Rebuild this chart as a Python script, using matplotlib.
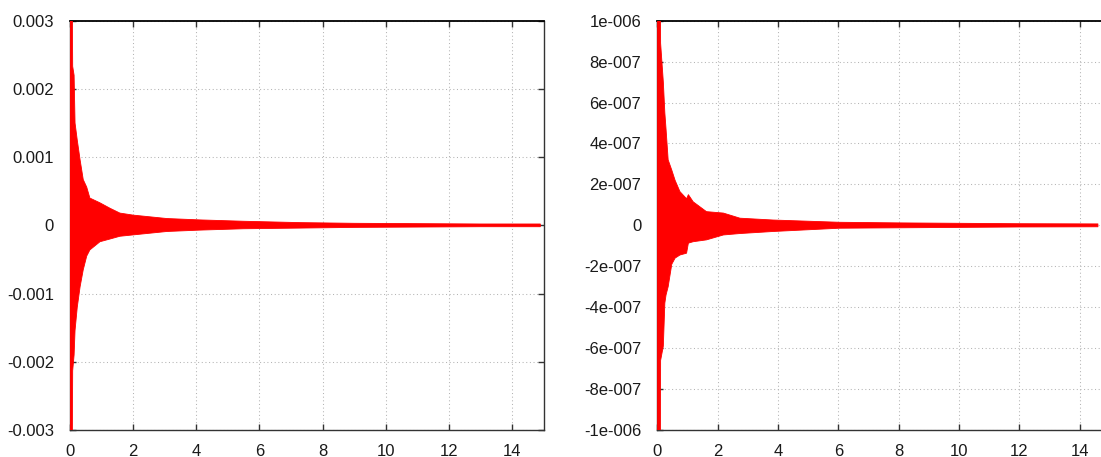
import matplotlib
matplotlib.use("Agg")
import matplotlib.pyplot as plt
import numpy as np
from matplotlib.ticker import FixedLocator, FixedFormatter

plt.rcParams['font.family'] = ['Liberation Sans', 'DejaVu Sans']

# ---- data (envelope of the dense red signal) ----
x_left = [0, 0.07, 0.085, 0.13, 0.16, 0.23, 0.32, 0.42, 0.53, 0.63, 0.95, 1.27, 1.58,
          2.0, 3.07, 4.1, 5.5, 7.3, 9.0, 11.0, 13.0, 14.9]
upper_left = [0.0035, 0.0035, 0.00233, 0.0022, 0.0015, 0.00125, 0.00096, 0.00067, 0.00056,
              0.0004, 0.00033, 0.00025, 0.00018, 0.00015, 0.0001, 0.00008,
              0.00006, 0.00004, 0.00003, 0.000025, 0.00002, 0.00002]
lower_left = [-0.0035, -0.0035, -0.00213, -0.0019, -0.00154, -0.0012, -0.0009, -0.00065,
              -0.00045, -0.00036, -0.00024, -0.0002, -0.00016, -0.00014,
              -0.00009, -0.00007, -0.00005, -0.00004, -0.00003, -0.000025,
              -0.00002, -0.00002]

x_right = [0, 0.1, 0.11, 0.2, 0.25, 0.29, 0.36, 0.48, 0.59, 0.75, 0.97, 1.03,
           1.19, 1.63, 2.19, 2.74, 3.84, 6.04, 8.0, 10.0, 12.0, 14.6]
upper_right = [1.2e-6, 1.2e-6, 0.89e-6, 0.70e-6, 0.55e-6, 0.47e-6, 0.32e-6, 0.27e-6,
               0.22e-6, 0.165e-6, 0.13e-6, 0.15e-6, 0.115e-6, 0.067e-6,
               0.06e-6, 0.035e-6, 0.026e-6, 0.015e-6, 0.012e-6, 0.01e-6,
               0.008e-6, 0.007e-6]
lower_right = [-1.2e-6, -1.2e-6, -0.66e-6, -0.59e-6, -0.38e-6, -0.34e-6, -0.30e-6,
               -0.19e-6, -0.16e-6, -0.145e-6, -0.136e-6, -0.087e-6,
               -0.08e-6, -0.071e-6, -0.047e-6, -0.04e-6, -0.03e-6,
               -0.014e-6, -0.012e-6, -0.01e-6, -0.008e-6, -0.007e-6]

x_ticks = [0, 2, 4, 6, 8, 10, 12, 14]
x_tick_labels = ['0', '2', '4', '6', '8', '10', '12', '14']

y_ticks_left = [-0.003, -0.002, -0.001, 0, 0.001, 0.002, 0.003]
y_tick_labels_left = ['-0.003', '-0.002', '-0.001', '0', '0.001', '0.002', '0.003']

y_ticks_right = [-1e-6, -8e-7, -6e-7, -4e-7, -2e-7, 0, 2e-7, 4e-7, 6e-7, 8e-7, 1e-6]
y_tick_labels_right = ['-1e-006', '-8e-007', '-6e-007', '-4e-007', '-2e-007', '0',
                       '2e-007', '4e-007', '6e-007', '8e-007', '1e-006']

# ---- figure ----
W, H = 1101, 457
fig = plt.figure(figsize=(W / 100, H / 100), dpi=100)

def px_axes(l, t, r, b):
    return fig.add_axes([l / W, 1 - b / H, (r - l) / W, (b - t) / H])

ax1 = px_axes(70, 20.7, 543.5, 430)
ax2 = px_axes(657.3, 20.7, 1110, 430)

panels = [
    (ax1, x_left, upper_left, lower_left, y_ticks_left, y_tick_labels_left, 0.003),
    (ax2, x_right, upper_right, lower_right, y_ticks_right, y_tick_labels_right, 1e-6),
]

for ax, xs, up, lo, yt, ytl, lim in panels:
    ax.fill_between(xs, lo, up, color='#ff0000', linewidth=0.6,
                    edgecolor='#ff0000', zorder=3)
    ax.set_xlim(0, 15)
    ax.set_ylim(-lim, lim)
    ax.xaxis.set_major_locator(FixedLocator(x_ticks))
    ax.xaxis.set_major_formatter(FixedFormatter(x_tick_labels))
    ax.yaxis.set_major_locator(FixedLocator(yt))
    ax.yaxis.set_major_formatter(FixedFormatter(ytl))
    ax.grid(True, color='#b4b4b4', linewidth=0.75, linestyle=(0, (1, 2.5)))
    ax.set_axisbelow(True)
    ax.tick_params(direction='in', length=4.5, width=1.0, color='#333333',
                   top=True, right=True, labelsize=12, labelcolor='#1a1a1a')
    ax.tick_params(axis='y', pad=11.5)
    ax.tick_params(axis='x', pad=10)
    for sp in ax.spines.values():
        sp.set_color('#333333')
        sp.set_linewidth(1.0)
    ax.spines['top'].set_color('#000000')
    ax.spines['top'].set_linewidth(1.3)

fig.savefig('out.png', dpi=100)
